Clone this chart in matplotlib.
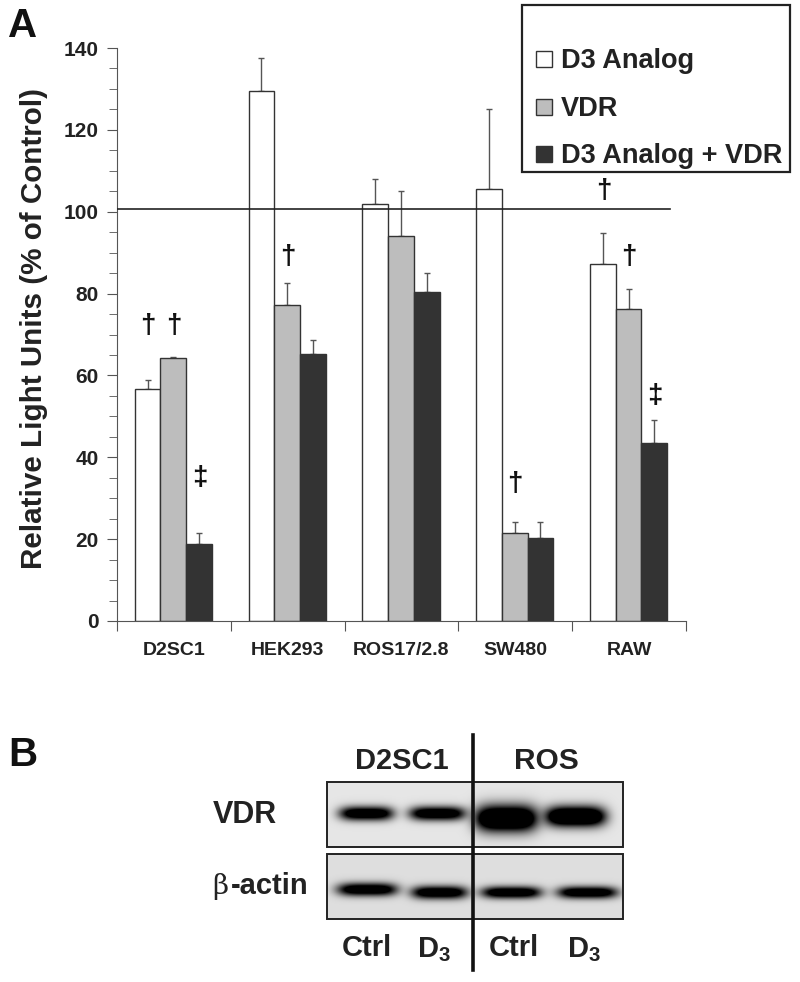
import numpy as np
import matplotlib
matplotlib.use("Agg")
import matplotlib.pyplot as plt
from matplotlib.patches import Rectangle

plt.rcParams['font.family'] = ['Liberation Sans', 'DejaVu Sans']
plt.rcParams['font.weight'] = 'bold'
plt.rcParams['axes.labelweight'] = 'bold'
plt.rcParams['mathtext.fontset'] = 'custom'
plt.rcParams['mathtext.bf'] = 'Liberation Sans:bold'

cell_lines = ["D2SC1", "HEK293", "ROS17/2.8", "SW480", "RAW"]
series_names = ["D3 Analog", "VDR", "D3 Analog + VDR"]
d3_analog = [56.7, 129.5, 102.0, 105.5, 87.2]
vdr = [64.2, 77.2, 94.0, 21.5, 76.3]
both = [18.7, 65.2, 80.5, 20.3, 43.5]
d3_err = [2.3, 8.0, 6.0, 19.5, 7.5]
vdr_err = [0.3, 5.3, 11.0, 2.8, 4.7]
both_err = [2.8, 3.5, 4.5, 3.9, 5.5]
control_line = 100.7

# group, series, symbol, height of symbol
sig_marks = [(0, 0, "†", 72), (0, 1, "†", 72), (0, 2, "‡", 35),
             (1, 1, "†", 89), (3, 1, "†", 33.5),
             (4, 0, "†", 105), (4, 1, "†", 89), (4, 2, "‡", 55)]

# blot bands: centre x, half width, centre y, half height, darkness (pixels)
vdr_bands = [(366, 27, 813, 7, 1.1), (437, 28, 813, 7, 1.1),
             (506, 31, 818, 13, 1.4), (575, 30, 816, 10, 1.4)]
actin_bands = [(367, 30, 889, 6.5, 1.1), (439, 28, 892, 6.5, 1.1),
               (511, 30, 892, 6, 1.1), (587, 30, 892, 6, 1.1)]

W, H = 800, 982
fig = plt.figure(figsize=(W / 100, H / 100), dpi=100)

# panel A
ax = fig.add_axes([117 / W, 1 - 621 / H, (686 - 117) / W, (621 - 48) / H])
x = np.arange(len(cell_lines))
bw = 0.226
colors = ["white", "#bdbdbd", "#333333"]
all_vals = [d3_analog, vdr, both]
all_errs = [d3_err, vdr_err, both_err]
for i in range(3):
    pos = x + (i - 1) * bw - 0.005
    ax.bar(pos, all_vals[i], bw, color=colors[i], edgecolor="#333333", linewidth=1.0, zorder=2)
    ax.errorbar(pos, all_vals[i], yerr=[np.zeros(5), all_errs[i]], fmt="none",
                ecolor="#555555", elinewidth=1.0, capsize=2.5, capthick=1.0, zorder=1)

ax.plot([-0.5, 4.36], [control_line, control_line], color="#222222", lw=1.2, zorder=3)

for g, s, sym, yy in sig_marks:
    ax.text(g + (s - 1) * bw, yy, sym, ha="center", va="center", fontsize=20, color="#111111")

ax.set_xlim(-0.5, 4.5)
ax.set_ylim(0, 140)
ax.spines["top"].set_visible(False)
ax.spines["right"].set_visible(False)
ax.spines["left"].set_color("#555555")
ax.spines["bottom"].set_color("#555555")
ax.set_yticks(np.arange(0, 141, 20))
ax.set_yticks(np.arange(0, 141, 5), minor=True)
ax.tick_params(axis="y", which="major", length=7, color="#555555", labelsize=15, pad=6, labelcolor="#222222")
ax.tick_params(axis="y", which="minor", length=6, color="#555555")
ax.set_xticks(np.arange(-0.5, 5, 1))
ax.set_xticklabels([])
ax.tick_params(axis="x", length=7, color="#555555")
for i, name in enumerate(cell_lines):
    ax.text(i, -7.2, name, ha="center", va="center", fontsize=14, color="#222222")
ax.set_ylabel("Relative Light Units (% of Control)", fontsize=21.3, color="#222222", labelpad=0)
ax.yaxis.set_label_coords(-0.122, 0.51)

# everything else in pixel coordinates
ov = fig.add_axes([0, 0, 1, 1])
ov.set_xlim(0, W)
ov.set_ylim(H, 0)
ov.axis("off")
ov.patch.set_alpha(0)

# legend box
ov.add_patch(Rectangle((522, 5), 268, 167, fc="white", ec="#222222", lw=1.6))
legend_y = [59, 107, 154]
for yy, c, name in zip(legend_y, colors, series_names):
    ov.add_patch(Rectangle((536, yy - 8), 16, 16, fc=c, ec="#333333", lw=1.0))
    ov.text(561, yy + 2, name, va="center", fontsize=19.5, color="#222222")

ov.text(8, 26, "A", fontsize=29, va="center", color="#111111")
ov.text(8, 755, "B", fontsize=29, va="center", color="#111111")


def draw_blot(x0, x1, y0, y1, bands, bg):
    xx, yy = np.meshgrid(np.arange(x0, x1), np.arange(y0, y1))
    img = np.full(xx.shape, bg, dtype=float)
    for cx, hw, cy, hh, dark in bands:
        band = np.exp(-((xx - cx) / hw) ** 4 - ((yy - cy) / hh) ** 2)
        img = img - img * np.clip(band * dark * 1.25, 0, 1)
    ov.imshow(img, extent=(x0, x1, y1, y0), cmap="gray", vmin=0, vmax=1,
              aspect="auto", interpolation="bilinear", zorder=1)
    ov.add_patch(Rectangle((x0, y0), x1 - x0, y1 - y0, fc="none", ec="#222222", lw=1.4, zorder=2))


draw_blot(327, 623, 782, 847, vdr_bands, 0.90)
draw_blot(327, 623, 854, 919, actin_bands, 0.87)
ov.set_xlim(0, W)
ov.set_ylim(H, 0)
ov.plot([473, 473], [735, 970], color="#111111", lw=2.6, zorder=3)

ov.text(402, 761, "D2SC1", ha="center", va="center", fontsize=21, color="#222222")
ov.text(546, 761, "ROS", ha="center", va="center", fontsize=21.5, color="#222222")
ov.text(213, 815, "VDR", va="center", fontsize=22, color="#222222")
ov.text(212, 886, "β", va="center", fontsize=20, color="#222222", family=['DejaVu Serif'], weight='normal')
ov.text(231, 886, "-actin", va="center", fontsize=21, color="#222222")
ov.text(367, 948, "Ctrl", ha="center", va="center", fontsize=21, color="#222222")
ov.text(434, 950, "D$_{\\mathbf{3}}$", ha="center", va="center", fontsize=21, color="#222222")
ov.text(514, 948, "Ctrl", ha="center", va="center", fontsize=21, color="#222222")
ov.text(584, 950, "D$_{\\mathbf{3}}$", ha="center", va="center", fontsize=21, color="#222222")

fig.savefig("out.png", dpi=100)
